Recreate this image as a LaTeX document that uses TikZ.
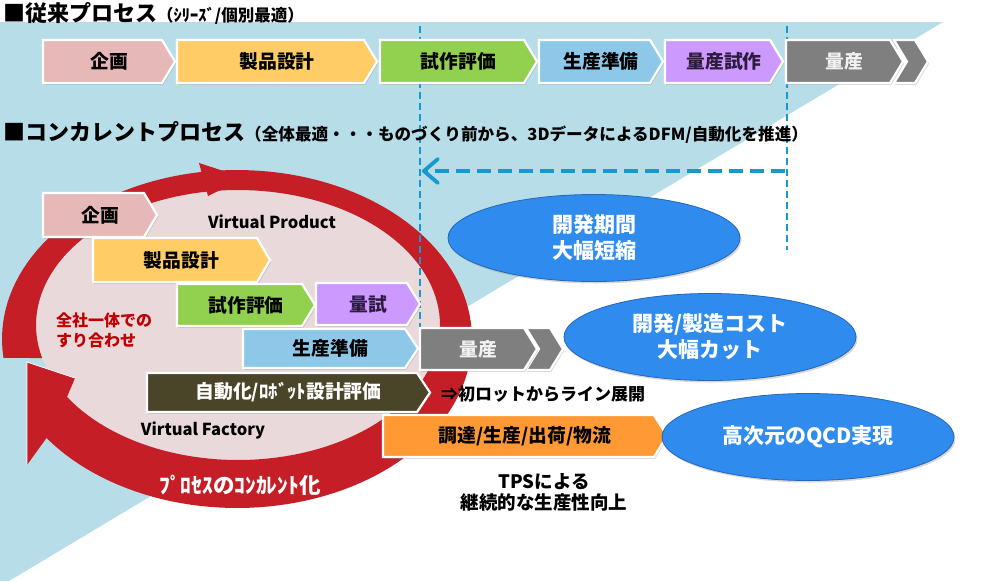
\documentclass[tikz,border=0pt]{standalone}
\usepackage{fontspec}
\newfontfamily\jp{Noto Sans CJK JP}
\usetikzlibrary{arrows.meta,shadows,shapes.geometric}
\definecolor{bgblue}{HTML}{B7DEE8}
\definecolor{pinkin}{HTML}{EAD9DA}
\definecolor{ringred}{HTML}{C61E27}
\definecolor{cPlan}{HTML}{E6B9B8}
\definecolor{cDesign}{HTML}{FFCC66}
\definecolor{cProto}{HTML}{92D050}
\definecolor{cPrep}{HTML}{8DC8E8}
\definecolor{cTrial}{HTML}{CC99FF}
\definecolor{cMass}{HTML}{7F7F7F}
\definecolor{cRobot}{HTML}{4A4429}
\definecolor{cLog}{HTML}{FF9933}
\definecolor{ellblue}{HTML}{2F8CEE}
\definecolor{ellline}{HTML}{2566B5}
\definecolor{dashblue}{HTML}{1599D0}
\definecolor{redtxt}{HTML}{C00000}
\definecolor{trialtxt}{HTML}{2D1B3D}
\newcommand\pent[7]{%
  \path[boxsty, fill=#6] (#2,#4) -- ({#3-13},#4) -- (#3,{(#4+#5)/2}) -- ({#3-13},#5) -- (#2,#5) -- cycle;
  \node[lbl] (#1) at ({(#2+#3)/2},{(#4+#5)/2}) {#7};}
\newcommand\chev[5]{%
  \path[boxsty, fill=cMass] (#2,#4) -- ({#3-13},#4) -- (#3,{(#4+#5)/2}) -- ({#3-13},#5) -- (#2,#5) -- ({#2+13},{(#4+#5)/2}) -- cycle;
  \coordinate (#1) at ({(#2+#3)/2},{(#4+#5)/2});}
\begin{document}
\begin{tikzpicture}[x=1pt,y=-1pt,
  boxsty/.style={draw=white, line width=2.2pt, line join=miter,
    drop shadow={shadow xshift=1.2pt, shadow yshift=-1.8pt, opacity=0.3}},
  lbl/.style={font=\jp\bfseries\fontsize{18.8}{21}\selectfont, inner sep=0pt},
  txt/.style={font=\jp\bfseries, inner sep=0pt},
  ellsty/.style={ellipse, fill=ellblue, draw=ellline, line width=0.8pt,
    minimum width=292pt, minimum height=87pt, inner sep=0pt, align=center,
    text=white, font=\jp\bfseries\fontsize{21}{26}\selectfont,
    drop shadow={shadow xshift=1.5pt, shadow yshift=-2pt, opacity=0.3}},
  vdash/.style={draw=dashblue, line width=1.8pt, dash pattern=on 7pt off 4pt},
  hdash/.style={draw=dashblue, line width=3.8pt, dash pattern=on 14pt off 7pt}]
\useasboundingbox (0,0) rectangle (1000,581);
% background
\fill[white] (0,0) rectangle (1000,581);
\fill[bgblue] (0,22) -- (943,22) -- (9,581) -- (0,581) -- cycle;
% ring
\fill[pinkin] (238,325) ellipse [x radius=202, y radius=135];
\fill[ringred]
  plot[domain=173.55:504.14, samples=140, variable=\t] ({237+235*cos(\t)},{339+169*sin(\t)})
  -- plot[domain=507.77:165.85, samples=140, variable=\t] ({238+202*cos(\t)},{325+135*sin(\t)})
  -- cycle
  (27,362) -- (75,378) -- (67,397) -- (46.5,438) -- (27,465) -- cycle;
\fill[ringred] (199,163) -- (245,178) -- (208,196) -- cycle;
\draw[white, line width=0.8pt] (75,378) -- (27,362) -- (27,465);
% dashed guides
\coordinate (vLt) at (420,26); \coordinate (vLb) at (420,328);
\coordinate (vRt) at (787,26); \coordinate (vRb) at (787,250);
\draw[vdash] (vLt) -- (vLb);
\draw[vdash] (vRt) -- (vRb);
\coordinate (aS) at (785,171); \coordinate (aE) at (422,171);
\draw[hdash, -{Straight Barb[length=14pt,width=24pt,round]}] (aS) -- (aE);
% titles
\node[txt, anchor=west] (t1) at (3,13) {\fontsize{22}{24}\selectfont ■従来プロセス\fontsize{16.5}{18}\selectfont （ｼﾘｰｽﾞ/個別最適）};
\node[txt, anchor=west] (t2) at (3,132) {\fontsize{22}{24}\selectfont ■コンカレントプロセス\fontsize{16.6}{18}\selectfont （全体最適・・・ものづくり前から、3DデータによるDFM/自動化を推進）};
% top row
\pent{tPlan}{43}{175}{40}{83}{cPlan}{企画}
\pent{tDesign}{177}{377}{40}{83}{cDesign}{製品設計}
\pent{tProto}{380}{537}{40}{83}{cProto}{試作評価}
\pent{tPrep}{539}{663}{40}{83}{cPrep}{生産準備}
\pent{tTrial}{665}{783}{40}{83}{cTrial}{\textcolor{trialtxt}{量産試作}}
\chev{tChev}{894}{928}{40}{83}
\pent{tMass}{786}{903}{40}{83}{cMass}{\textcolor{white!95!black}{量産}}
% concurrent boxes
\pent{cPlanN}{43}{157}{193}{237}{cPlan}{企画}
\pent{cDesignN}{93}{270}{238}{282}{cDesign}{製品設計}
\pent{cProtoN}{177}{315}{284}{326}{cProto}{試作評価}
\pent{cTrialN}{316}{420}{283}{325}{cTrial}{\textcolor{trialtxt}{量試}}
\pent{cPrepN}{243}{418}{329}{368}{cPrep}{生産準備}
\chev{cChev}{526}{563}{328}{370}
\pent{cMassN}{420}{537}{328}{370}{cMass}{\textcolor{white!95!black}{量産}}
\pent{cRobotN}{147}{430}{373}{412}{cRobot}{\textcolor{white}{自動化/ﾛﾎﾞｯﾄ設計評価}}
\pent{cLogN}{383}{667}{415}{457}{cLog}{調達/生産/出荷/物流}
% ring texts
\node[txt, font=\jp\bfseries\fontsize{16.5}{18}\selectfont] (vp) at (272,222) {Virtual Product};
\node[txt, font=\jp\bfseries\fontsize{16.5}{18}\selectfont] (vf) at (203,430) {Virtual Factory};
\node[txt, anchor=west, align=left, text=redtxt, font=\jp\bfseries\fontsize{16}{20}\selectfont] (zen) at (56,330) {全社一体での\\すり合わせ};
\node[txt, text=white, font=\jp\bfseries\fontsize{21.5}{22}\selectfont] (pc) at (240,485) {ﾌﾟﾛｾｽのｺﾝｶﾚﾝﾄ化};
% other texts
\node[txt, font=\jp\bfseries\fontsize{17}{20}\selectfont] (line) at (543,394) {⇒初ロットからライン展開};
\node[txt, align=center, font=\jp\bfseries\fontsize{18.5}{21}\selectfont] (tps) at (544,492) {TPSによる\\継続的な生産性向上};
% result ellipses
\node[ellsty] (e1) at (594,238) {開発期間\\大幅短縮};
\node[ellsty] (e2) at (710,337) {開発/製造コスト\\大幅カット};
\node[ellsty] (e3) at (808,437) {高次元のQCD実現};
\end{tikzpicture}
\end{document}
